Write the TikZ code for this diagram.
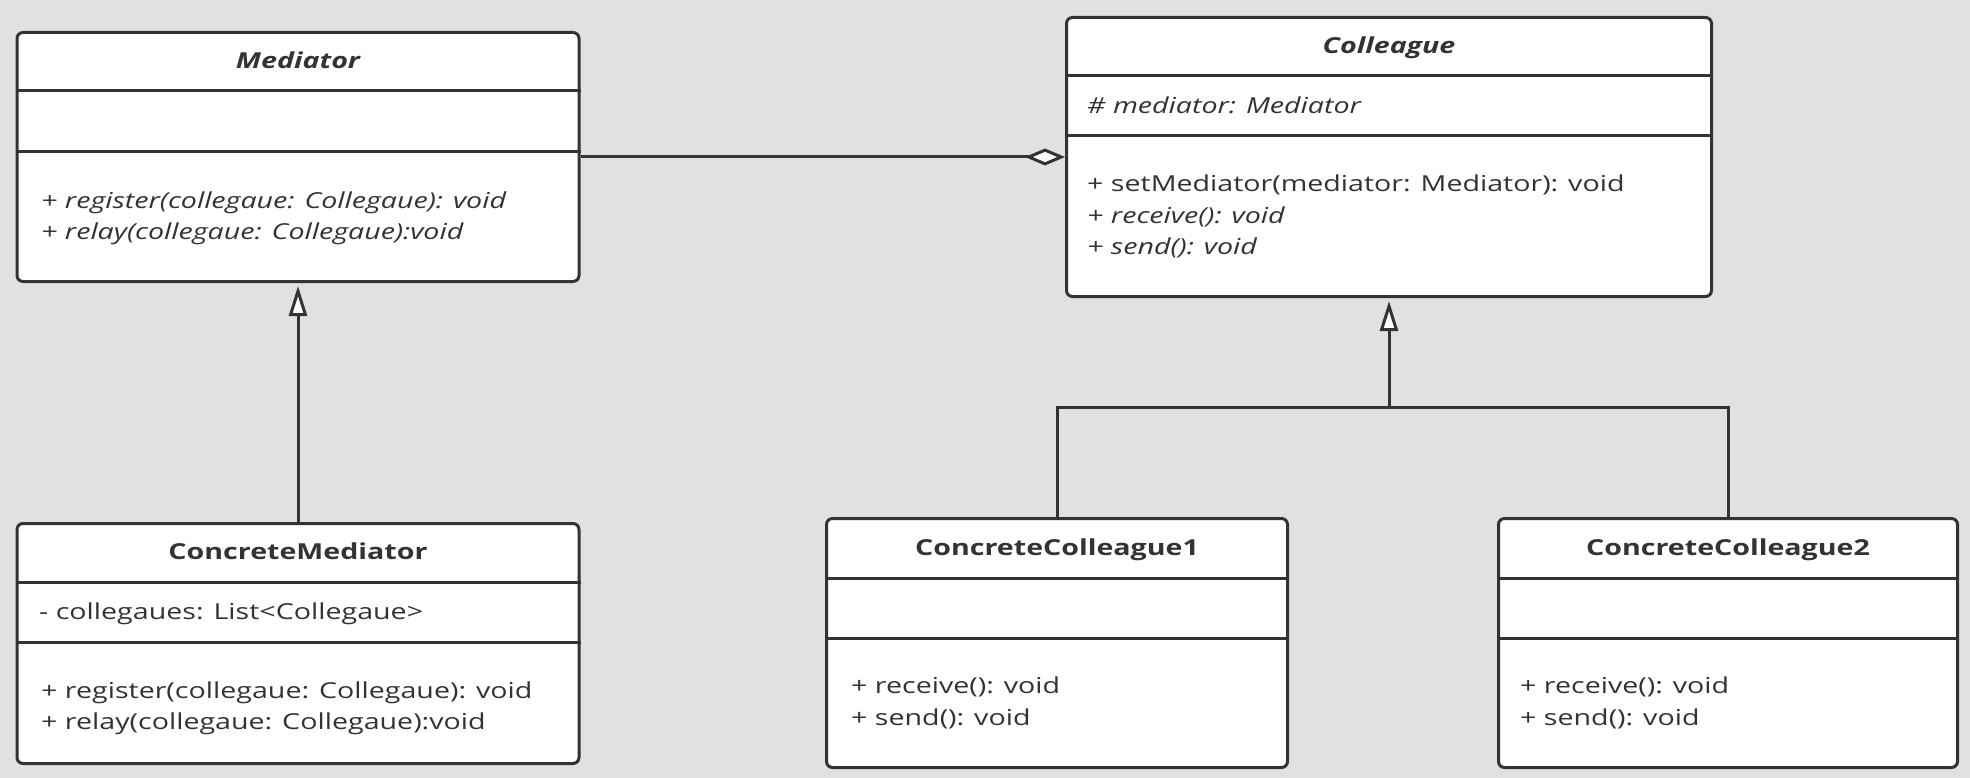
\documentclass[tikz,border=0pt]{standalone}
\usepackage{fontspec}
\setmainfont{Open Sans}[FakeStretch=1.3]
\usetikzlibrary{arrows.meta}
\definecolor{bg}{HTML}{E1E1E1}
\definecolor{ink}{HTML}{333333}
\tikzset{
  classbox/.style={draw=ink, line width=3pt, fill=white, rounded corners=6pt, inner sep=0pt, anchor=north west},
  divider/.style={draw=ink, line width=3pt},
  title/.style={font=\fontsize{22}{26}\selectfont\bfseries\itshape, text=ink, anchor=mid, inner sep=0pt},
  ctitle/.style={font=\fontsize{22}{26}\selectfont\bfseries, text=ink, anchor=mid, inner sep=0pt},
  member/.style={font=\fontsize{22}{26}\selectfont, text=ink, anchor=mid west, inner sep=0pt},
  imember/.style={font=\fontsize{22}{26}\selectfont\itshape, text=ink, anchor=mid west, inner sep=0pt},
  conn/.style={draw=ink, line width=3pt},
  inh/.style={conn, -{Triangle[open, fill=white, length=30pt, width=18pt]}, shorten >=3pt},
  agg/.style={conn, -{Diamond[open, fill=white, length=40pt, width=17pt]}},
}
\begin{document}
\begin{tikzpicture}[x=1pt, y=-1pt]
\useasboundingbox[fill=bg] (0,0) rectangle (1970,778);

% Mediator
\node[classbox, minimum width=562pt, minimum height=249pt] (med) at (15.5,31) {};
\draw[divider] (med.west |- 0,91) -- (med.east |- 0,91);
\draw[divider] (med.west |- 0,152) -- (med.east |- 0,152);
\node[title] (medt) at (med.center |- 0,66) {Mediator};
\node[imember] (medm1) at (41,206) {+ register(collegaue: Collegaue): void};
\node[imember] (medm2) at (41,237) {+ relay(collegaue: Collegaue):void};

% Colleague
\node[classbox, minimum width=645pt, minimum height=279pt] (col) at (1065,16) {};
\draw[divider] (col.west |- 0,76) -- (col.east |- 0,76);
\draw[divider] (col.west |- 0,136) -- (col.east |- 0,136);
\node[title] (colt) at (col.center |- 0,51) {Colleague};
\node[imember] (cola) at (1087,111) {\# mediator: Mediator};
\node[member] (colm1) at (1087,189) {+ setMediator(mediator: Mediator): void};
\node[imember] (colm2) at (1087,221) {+ receive(): void};
\node[imember] (colm3) at (1087,252) {+ send(): void};

% ConcreteMediator
\node[classbox, minimum width=562pt, minimum height=240pt] (cm) at (15.5,522) {};
\draw[divider] (cm.west |- 0,582) -- (cm.east |- 0,582);
\draw[divider] (cm.west |- 0,642) -- (cm.east |- 0,642);
\node[ctitle] (cmt) at (cm.center |- 0,557) {ConcreteMediator};
\node[member] (cma) at (39,617) {- collegaues: List<Collegaue>};
\node[member] (cmm1) at (41,696) {+ register(collegaue: Collegaue): void};
\node[member] (cmm2) at (41,727) {+ relay(collegaue: Collegaue):void};

% ConcreteColleague1
\node[classbox, minimum width=461pt, minimum height=249pt] (cc1) at (825,517) {};
\draw[divider] (cc1.west |- 0,578) -- (cc1.east |- 0,578);
\draw[divider] (cc1.west |- 0,638) -- (cc1.east |- 0,638);
\node[ctitle] (cc1t) at (cc1.center |- 0,553) {ConcreteColleague1};
\node[member] (cc1m1) at (851,691) {+ receive(): void};
\node[member] (cc1m2) at (851,723) {+ send(): void};

% ConcreteColleague2
\node[classbox, minimum width=459pt, minimum height=249pt] (cc2) at (1497,517) {};
\draw[divider] (cc2.west |- 0,578) -- (cc2.east |- 0,578);
\draw[divider] (cc2.west |- 0,638) -- (cc2.east |- 0,638);
\node[ctitle] (cc2t) at (cc2.center |- 0,553) {ConcreteColleague2};
\node[member] (cc2m1) at (1520,691) {+ receive(): void};
\node[member] (cc2m2) at (1520,723) {+ send(): void};

% connectors
\draw[agg] (med.east) -- (col.west);
\draw[inh] (cm.north) -- (med.south);
\coordinate (j) at (col.south |- 0,407);
\draw[inh] (j) -- (col.south);
\draw[conn] (cc1.north) |- (j) -| (cc2.north);
\end{tikzpicture}
\end{document}
